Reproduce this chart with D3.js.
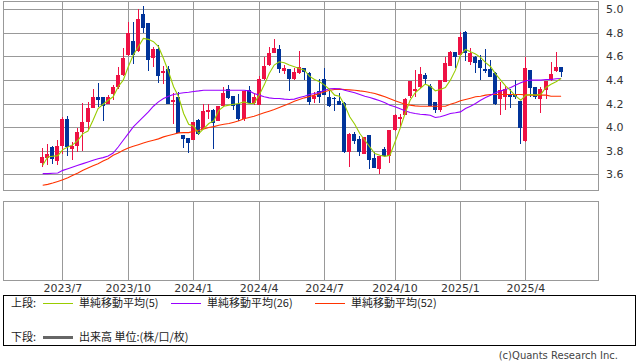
<!DOCTYPE html>
<html><head><meta charset="utf-8">
<script src="https://cdn.jsdelivr.net/npm/d3@7"></script>
<style>
body{margin:0;background:#fff;}
svg{display:block;}
</style></head><body>
<svg id="c" width="638" height="362"></svg>
<script>
const openP = [3.70,3.74,3.83,3.71,3.84,4.068,3.816,3.841,3.957,4.042,
4.164,4.26,4.255,4.201,4.28,4.337,4.442,4.612,4.731,4.649,
4.96,4.881,4.589,4.66,4.462,4.493,4.218,4.252,3.935,3.906,
3.895,4.065,3.988,4.133,4.15,4.054,4.178,4.32,4.263,4.195,
4.073,4.314,4.207,4.187,4.405,4.527,4.632,4.663,4.479,4.493,
4.408,4.462,4.498,4.462,4.241,4.306,4.413,4.258,4.249,4.224,
4.207,3.79,3.946,3.903,3.776,3.932,3.739,3.648,3.818,3.753,
3.974,4.073,4.102,4.263,4.309,4.337,4.442,4.348,4.215,4.144,
4.385,4.518,4.634,4.612,4.81,4.555,4.598,4.569,4.493,4.493,
4.462,4.243,4.258,4.277,4.272,4.224,3.884,4.484,4.337,4.243,
4.314,4.399,4.479,4.507];
const highP = [3.82,3.855,3.84,3.895,4.088,4.093,3.878,3.994,4.209,4.212,
4.328,4.371,4.26,4.269,4.357,4.513,4.668,4.892,4.895,5.0,
5.028,4.885,4.683,4.697,4.518,4.518,4.292,4.30,3.937,3.908,
4.047,4.067,4.201,4.195,4.152,4.18,4.337,4.357,4.265,4.28,
4.31,4.348,4.286,4.433,4.598,4.683,4.748,4.697,4.527,4.495,
4.498,4.649,4.50,4.464,4.30,4.405,4.498,4.31,4.26,4.286,
4.21,3.95,3.957,3.923,3.92,3.934,3.79,3.753,3.83,3.975,
4.108,4.116,4.25,4.392,4.484,4.507,4.462,4.37,4.217,4.40,
4.598,4.649,4.636,4.804,4.815,4.668,4.60,4.612,4.66,4.569,
4.464,4.385,4.348,4.328,4.40,4.226,4.592,4.486,4.339,4.343,
4.394,4.555,4.64,4.509];
const lowP = [3.66,3.68,3.685,3.677,3.776,3.753,3.725,3.79,3.798,3.974,
4.16,4.173,4.056,4.195,4.229,4.328,4.433,4.603,4.535,4.64,
4.802,4.479,4.513,4.371,4.365,4.20,4.031,3.95,3.824,3.782,
3.89,3.93,3.985,4.073,3.816,4.05,4.173,4.243,4.144,4.054,
4.054,4.205,4.187,4.185,4.40,4.52,4.626,4.456,4.45,4.309,
4.40,4.45,4.40,4.187,4.207,4.207,4.27,4.17,4.139,4.185,
3.782,3.663,3.861,3.753,3.77,3.648,3.65,3.606,3.745,3.697,
3.97,4.003,4.10,4.25,4.258,4.335,4.357,4.176,4.122,4.13,
4.383,4.516,4.498,4.61,4.564,4.527,4.462,4.399,4.456,4.422,
4.187,4.102,4.15,4.167,4.24,3.861,3.878,4.252,4.235,4.122,
4.243,4.394,4.47,4.428];
const closeP = [3.75,3.77,3.73,3.844,4.068,3.833,3.841,3.957,4.042,4.164,
4.255,4.229,4.178,4.26,4.343,4.439,4.583,4.802,4.612,4.918,
4.844,4.569,4.66,4.436,4.479,4.201,4.232,3.952,3.903,3.867,
4.045,3.94,4.136,4.15,4.037,4.178,4.292,4.249,4.178,4.073,
4.309,4.207,4.258,4.405,4.518,4.632,4.674,4.496,4.498,4.413,
4.47,4.507,4.47,4.215,4.263,4.258,4.272,4.178,4.238,4.187,
3.79,3.946,3.884,3.79,3.918,3.719,3.654,3.753,3.753,3.974,
4.102,4.088,4.243,4.391,4.32,4.45,4.408,4.178,4.144,4.399,
4.541,4.64,4.598,4.768,4.626,4.626,4.541,4.498,4.479,4.428,
4.195,4.314,4.328,4.252,4.252,3.997,4.498,4.334,4.252,4.32,
4.394,4.45,4.513,4.47];
const ma5 = [3.677,3.747,3.753,3.759,3.810,3.832,3.852,3.889,3.946,3.968,
4.059,4.158,4.195,4.229,4.258,4.343,4.399,4.513,4.612,4.683,
4.753,4.745,4.725,4.683,4.583,4.470,4.343,4.258,4.116,4.025,
4.008,3.946,3.988,4.031,4.054,4.144,4.178,4.187,4.195,4.201,
4.215,4.201,4.201,4.272,4.357,4.456,4.527,4.555,4.547,4.527,
4.513,4.498,4.484,4.433,4.405,4.385,4.357,4.320,4.272,4.263,
4.187,4.088,4.025,3.946,3.889,3.832,3.776,3.762,3.753,3.762,
3.875,3.988,4.116,4.229,4.292,4.328,4.365,4.348,4.309,4.320,
4.337,4.399,4.484,4.612,4.660,4.640,4.620,4.592,4.547,4.513,
4.450,4.399,4.348,4.309,4.263,4.229,4.272,4.277,4.272,4.280,
4.337,4.365,4.385,4.413];
const ma26 = [3.606,3.606,3.609,3.611,3.634,3.648,3.662,3.677,3.691,3.705,
3.719,3.733,3.742,3.756,3.781,3.832,3.889,3.946,4.002,4.045,
4.088,4.130,4.178,4.215,4.243,4.263,4.277,4.286,4.292,4.297,
4.303,4.308,4.314,4.314,4.314,4.314,4.314,4.314,4.314,4.314,
4.314,4.308,4.286,4.272,4.258,4.249,4.243,4.243,4.238,4.235,
4.238,4.252,4.263,4.277,4.286,4.297,4.314,4.326,4.328,4.326,
4.314,4.303,4.292,4.277,4.263,4.252,4.238,4.224,4.207,4.187,
4.173,4.156,4.139,4.124,4.116,4.110,4.107,4.102,4.082,4.088,
4.102,4.116,4.122,4.130,4.158,4.178,4.201,4.229,4.252,4.272,
4.292,4.308,4.320,4.337,4.357,4.377,4.394,4.399,4.399,4.399,
4.405,4.405,4.411,4.413];
const ma52 = [3.507,3.515,3.526,3.540,3.555,3.572,3.592,3.611,3.634,3.654,
3.674,3.691,3.713,3.733,3.762,3.781,3.804,3.824,3.838,3.852,
3.866,3.878,3.889,3.901,3.918,3.929,3.940,3.952,3.954,3.954,
3.966,3.974,3.985,3.997,4.005,4.017,4.025,4.031,4.042,4.054,
4.071,4.082,4.093,4.107,4.122,4.136,4.150,4.167,4.184,4.201,
4.221,4.235,4.249,4.260,4.272,4.286,4.300,4.314,4.320,4.323,
4.320,4.317,4.314,4.308,4.303,4.294,4.286,4.272,4.258,4.241,
4.224,4.209,4.195,4.187,4.181,4.178,4.178,4.178,4.178,4.178,
4.178,4.195,4.207,4.224,4.235,4.246,4.258,4.263,4.272,4.277,
4.277,4.277,4.277,4.277,4.277,4.277,4.274,4.272,4.272,4.272,
4.272,4.263,4.263,4.263];
const monthTickIdx = [4,17,30,43,56,70,83,96];
const monthTickLabels = ["2023/7","2023/10","2024/1","2024/4","2024/7","2024/10","2025/1","2025/4"];
const priceTicks = [3.6,3.8,4.0,4.2,4.4,4.6,4.8,5.0];
const legendTop = [
  {label:"単純移動平均(5)", color:"#99cc00"},
  {label:"単純移動平均(26)", color:"#9900ff"},
  {label:"単純移動平均(52)", color:"#ff3300"}
];

const svg = d3.select("#c");
const L = 3, R = 598, T1 = 1, B1 = 190, T2 = 201, B2 = 280;
const x = d3.scaleLinear().domain([-7.79, 110.43]).range([L, R]);
const y = d3.scaleLinear().domain([3.4674, 5.0704]).range([B1, T1]);
const grid = "#999999";
const jp = "'Noto Sans CJK JP', sans-serif";
const lat = "'DejaVu Sans', sans-serif";

// horizontal grid (upper)
svg.append("g").selectAll("line").data(priceTicks).join("line")
  .attr("x1", L).attr("x2", R)
  .attr("y1", d => Math.round(y(d)) + 0.5).attr("y2", d => Math.round(y(d)) + 0.5)
  .attr("stroke", grid).attr("shape-rendering", "crispEdges");
// vertical grid both panels
[[T1, B1], [T2, B2]].forEach(([t, b]) => {
  svg.append("g").selectAll("line").data(monthTickIdx).join("line")
    .attr("x1", d => Math.round(x(d)) + 0.5).attr("x2", d => Math.round(x(d)) + 0.5)
    .attr("y1", t).attr("y2", b)
    .attr("stroke", grid).attr("shape-rendering", "crispEdges");
  svg.append("rect").attr("x", L + 0.5).attr("y", t + 0.5)
    .attr("width", R - L).attr("height", b - t)
    .attr("fill", "none").attr("stroke", grid).attr("shape-rendering", "crispEdges");
});

// candles
const idx = d3.range(closeP.length);
const cg = svg.append("g").attr("shape-rendering", "crispEdges");
idx.forEach(i => {
  const up = closeP[i] >= openP[i];
  const col = up ? "#ee1144" : "#003399";
  const cx = Math.round(x(i));
  cg.append("rect").attr("x", cx).attr("width", 1)
    .attr("y", Math.round(y(highP[i])))
    .attr("height", Math.max(1, Math.round(y(lowP[i])) - Math.round(y(highP[i]))))
    .attr("fill", col);
  const top = Math.round(y(Math.max(openP[i], closeP[i])));
  const bot = Math.round(y(Math.min(openP[i], closeP[i])));
  cg.append("rect").attr("x", cx - 2).attr("width", 4)
    .attr("y", top).attr("height", Math.max(1, bot - top))
    .attr("fill", col);
});

// moving averages
const line = d3.line().x((d, i) => x(i) + 0.5).y(d => y(d));
[[ma52, "#ff3300"], [ma26, "#9900ff"], [ma5, "#99cc00"]].forEach(([arr, col]) => {
  svg.append("path").datum(arr).attr("d", line)
    .attr("fill", "none").attr("stroke", col).attr("stroke-width", 1.1);
});

// y axis labels
const ya = svg.append("g").attr("transform", `translate(${R},0)`)
  .call(d3.axisRight(y).tickValues(priceTicks).tickSize(0).tickPadding(8).tickFormat(d3.format(".1f")));
ya.select(".domain").remove();
ya.selectAll("text").attr("font-family", lat).attr("font-size", 11).attr("fill", "#333");

// x axis labels
const xa = svg.append("g").attr("transform", `translate(0,${B2})`)
  .call(d3.axisBottom(x).tickValues(monthTickIdx).tickSize(0).tickPadding(4)
    .tickFormat((d, i) => monthTickLabels[i]));
xa.select(".domain").remove();
xa.selectAll("text").attr("font-family", lat).attr("font-size", 11).attr("fill", "#333");

// legend
svg.append("rect").attr("x", 3.5).attr("y", 295.5).attr("width", 632).attr("height", 50)
  .attr("fill", "none").attr("stroke", "#000").attr("shape-rendering", "crispEdges");
const lg = svg.append("g").attr("font-family", jp).attr("font-size", 11).attr("fill", "#222");
lg.append("text").attr("x", 11).attr("y", 307).text("上段:");
const lx = [43, 171, 315];
legendTop.forEach((d, i) => {
  lg.append("line").attr("x1", lx[i]).attr("x2", lx[i] + 30).attr("y1", 303.5).attr("y2", 303.5)
    .attr("stroke", d.color).attr("shape-rendering", "crispEdges");
  lg.append("text").attr("x", lx[i] + 36).attr("y", 307).text(d.label);
});
lg.append("text").attr("x", 11).attr("y", 341).text("下段:");
lg.append("line").attr("x1", 43).attr("x2", 73).attr("y1", 337.5).attr("y2", 337.5)
  .attr("stroke", "#666").attr("stroke-width", 3).attr("shape-rendering", "crispEdges");
lg.append("text").attr("x", 79).attr("y", 341).text("出来高 単位:(株/口/枚)");

svg.append("text").attr("x", 618).attr("y", 359).attr("text-anchor", "end")
  .attr("font-family", lat).attr("font-size", 10).attr("fill", "#444")
  .text("(c)Quants Research Inc.");
</script>
</body></html>
